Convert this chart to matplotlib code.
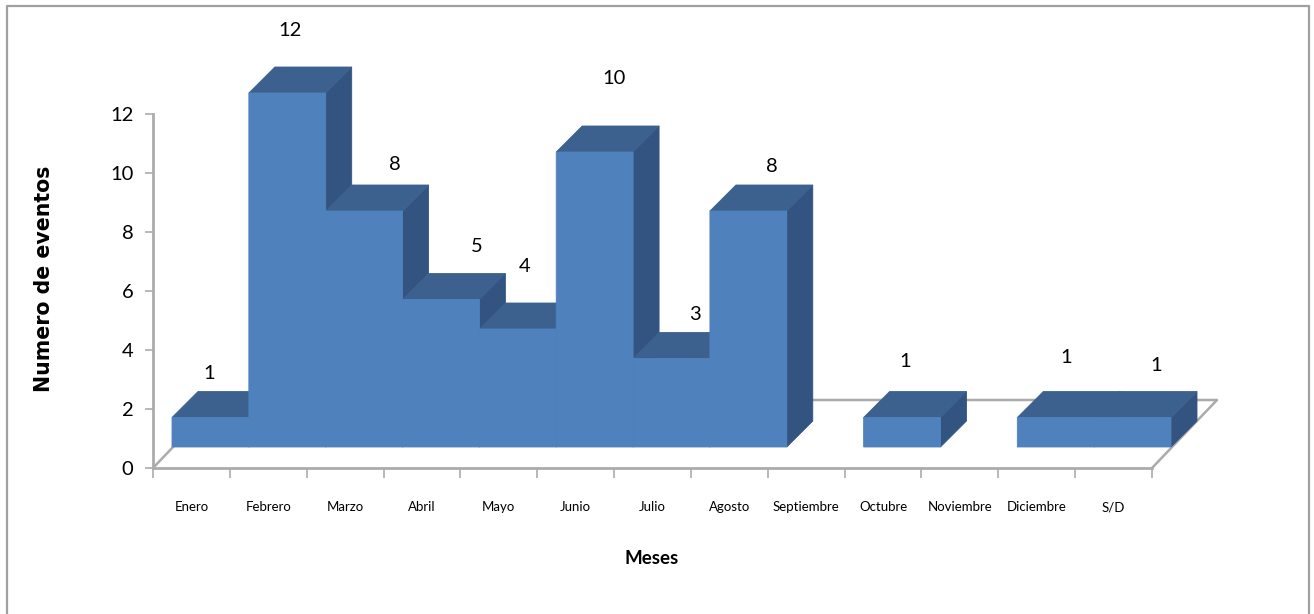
import matplotlib
matplotlib.use('Agg')
import matplotlib.pyplot as plt
from matplotlib.lines import Line2D
from matplotlib.transforms import Affine2D

meses = ['Enero', 'Febrero', 'Marzo', 'Abril', 'Mayo', 'Junio', 'Julio', 'Agosto',
         'Septiembre', 'Octubre', 'Noviembre', 'Diciembre', 'S/D']
eventos = [1, 12, 8, 5, 4, 10, 3, 8, 0, 1, 0, 1, 1]
y_ticks = [0, 2, 4, 6, 8, 10, 12]

# the labels in the picture float by hand-placed amounts, in pixels from bar top
label_offset = [(18, 65), (22, 83), (50, 68), (55, 74), (26, 83), (38, 95), (43, 65),
                (43, 65), None, (22, 77), None, (29, 81), (43, 73)]

FRONT = '#4f81bd'
TOP = '#3c618f'
SIDE = '#335480'
GRID = '#ababab'
W, H = 1314, 614

# pixel shifts of the fake 3d
BAR_DX, BAR_DY = 19, 21
DEPTH_DX, DEPTH_DY = 26, 26
WALL_DX, WALL_DY = 65, 68

fig = plt.figure(figsize=(W / 100, H / 100), dpi=100)
ax = fig.add_axes([153 / W, (H - 468) / H, (1152 - 153) / W, (468 - 114) / H])
ax.set_xlim(0, len(meses))
ax.set_ylim(0, 12)
ax.patch.set_alpha(0)

bar_tr = ax.transData + Affine2D().translate(BAR_DX, BAR_DY)
ux, uy = (1152 - 153) / len(meses), (468 - 114) / 12
ddx, ddy = DEPTH_DX / ux, DEPTH_DY / uy

# floor
wx, wy = WALL_DX / ux, WALL_DY / uy
ax.plot([0, wx, len(meses) + wx, len(meses)], [0, wy, wy, 0], color=GRID, lw=1.8,
        clip_on=False, zorder=1)

# sides, then tops, then fronts: a lower neighbour's top covers the side next to it
for i, v in enumerate(eventos):
    if v > 0:
        ax.fill([i + 1, i + 1 + ddx, i + 1 + ddx, i + 1], [0, ddy, v + ddy, v], color=SIDE, lw=0.6,
                transform=bar_tr, clip_on=False, zorder=2)
for i, v in enumerate(eventos):
    if v > 0:
        ax.fill([i, i + 1, i + 1 + ddx, i + ddx], [v, v, v + ddy, v + ddy], color=TOP, lw=0.6,
                transform=bar_tr, clip_on=False, zorder=2.5)

# edge in the same colour closes the seams between neighbouring bars
# empty months are left out, their edge would show as a line on the floor
con_datos = [i for i, v in enumerate(eventos) if v > 0]
ax.bar([i + 0.5 for i in con_datos], [eventos[i] for i in con_datos], width=1, color=FRONT,
       edgecolor=FRONT, linewidth=0.6, snap=False, transform=bar_tr, clip_on=False, zorder=3)

for i, v in enumerate(eventos):
    if label_offset[i] is None:
        continue
    ax.annotate(str(v), (i + 0.5, v), xytext=(label_offset[i][0] * 0.72, label_offset[i][1] * 0.72),
                textcoords='offset points', ha='center', va='center', fontsize=14.5,
                family='Lato', color='black', annotation_clip=False, zorder=5)

for s in ['top', 'right']:
    ax.spines[s].set_visible(False)
for s in ['left', 'bottom']:
    ax.spines[s].set_color(GRID)
    ax.spines[s].set_linewidth(2)
    ax.spines[s].set_zorder(4)

ax.set_yticks(y_ticks)
ax.set_yticklabels(y_ticks, fontsize=14.5, family='Lato')
ax.tick_params(axis='y', length=6, width=1.2, color=GRID, pad=8)

ax.set_xticks(range(len(meses) + 1))
ax.set_xticklabels([])
ax.set_xticks([i + 0.5 for i in range(len(meses))], minor=True)
ax.set_xticklabels(meses, minor=True, fontsize=9.5, family='Lato')
ax.tick_params(axis='x', which='major', length=7, width=1.2, color=GRID)
ax.tick_params(axis='x', which='minor', length=0, pad=24)

fig.text(652 / W, 1 - 558 / H, 'Meses', ha='center', va='center', fontsize=13.5, fontweight='bold',
         family='Lato')
fig.text(44 / W, 1 - 279 / H, 'Numero de eventos', ha='center', va='center', rotation=90,
         fontsize=14.8, fontweight='bold', family='DejaVu Sans')

# chart frame, no line along the bottom
fx = [7 / W, 7 / W, 1309 / W, 1309 / W]
fy = [0, 1 - 6 / H, 1 - 6 / H, 0]
fig.add_artist(Line2D(fx, fy, color='#a0a0a0', lw=1.6))

fig.savefig('out.png', dpi=100)
